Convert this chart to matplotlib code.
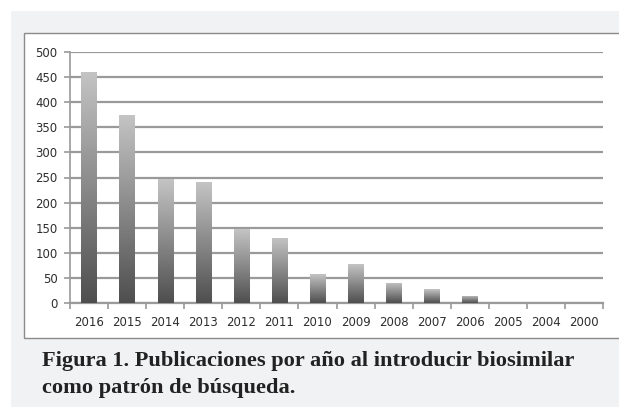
import numpy as np
import matplotlib
matplotlib.use("Agg")
import matplotlib.pyplot as plt
from matplotlib.patches import Rectangle

years = ["2016", "2015", "2014", "2013", "2012", "2011", "2010", "2009",
         "2008", "2007", "2006", "2005", "2004", "2000"]
publications = [460, 374, 247, 241, 147, 130, 57, 77, 40, 27, 14, 0, 0, 0]
yticks = [0, 50, 100, 150, 200, 250, 300, 350, 400, 450, 500]
caption_lines = ["Figura 1. Publicaciones por año al introducir biosimilar",
                 "como patrón de búsqueda."]

W, H = 619, 407
fig = plt.figure(figsize=(W / 100, H / 100), dpi=100)
fig.patch.set_facecolor("white")

# grey panel
fig.patches.append(Rectangle((11 / W, 0), 1, 1 - 11 / H, transform=fig.transFigure,
                             facecolor="#f1f2f4", edgecolor="none", zorder=-3))
# white chart box
fig.patches.append(Rectangle((24 / W, 1 - 338 / H), 1, (338 - 33) / H,
                             transform=fig.transFigure, facecolor="white",
                             edgecolor="#8a8a8a", linewidth=1.0, zorder=-2))

ax = fig.add_axes([70 / W, 1 - 303 / H, (603 - 70) / W, (303 - 52) / H])
ax.set_facecolor("none")
x = np.arange(len(years))
bars = ax.bar(x, publications, width=0.4, color="none", edgecolor="none", zorder=3)

grad = np.linspace(0, 1, 256).reshape(-1, 1)
cmap = matplotlib.colors.LinearSegmentedColormap.from_list("g", ["#4e4e4e", "#c4c4c4"])
for b, v in zip(bars, publications):
    if v <= 0:
        continue
    x0 = b.get_x()
    w = b.get_width()
    im = ax.imshow(grad, extent=(x0, x0 + w, 0, v), origin="lower", cmap=cmap,
                   aspect="auto", zorder=3, interpolation="bilinear")
    im.set_clip_path(b)

ax.set_xlim(-0.5, len(years) - 0.5)
ax.set_ylim(0, 500)
ax.set_yticks(yticks)
ax.set_yticklabels([str(t) for t in yticks])
ax.set_xticks(x)
ax.set_xticklabels(years)
ax.set_xticks(np.arange(-0.5, len(years), 1), minor=True)

ax.yaxis.grid(True, color="#9a9a9a", linewidth=1.6, zorder=1)
ax.set_axisbelow(True)
for s in ["top", "right"]:
    ax.spines[s].set_visible(False)
ax.spines["left"].set_color("#9a9a9a")
ax.spines["left"].set_linewidth(1.2)
ax.spines["bottom"].set_color("#9a9a9a")
ax.spines["bottom"].set_linewidth(1.6)
ax.tick_params(axis="y", length=4, width=1.2, color="#9a9a9a", labelsize=8.5,
               labelcolor="#2e2e2e", pad=5)
ax.tick_params(axis="x", which="major", length=0, labelsize=8.5,
               labelcolor="#2e2e2e", pad=9)
ax.tick_params(axis="x", which="minor", length=4, width=1.2, color="#9a9a9a")

# caption, sized so the first line spans the same width as in the reference
t1 = fig.text(42 / W, 1 - 366 / H, caption_lines[0], ha="left", va="baseline",
              family="Liberation Serif", weight="bold", fontsize=14, color="#222222")
fig.canvas.draw()
wpx = t1.get_window_extent().width
fs = 14 * 533 / wpx
t1.set_fontsize(fs)
fig.text(42 / W, 1 - 393 / H, caption_lines[1], ha="left", va="baseline",
         family="Liberation Serif", weight="bold", fontsize=fs, color="#222222")

fig.savefig("out.png", dpi=100, facecolor=fig.get_facecolor())
